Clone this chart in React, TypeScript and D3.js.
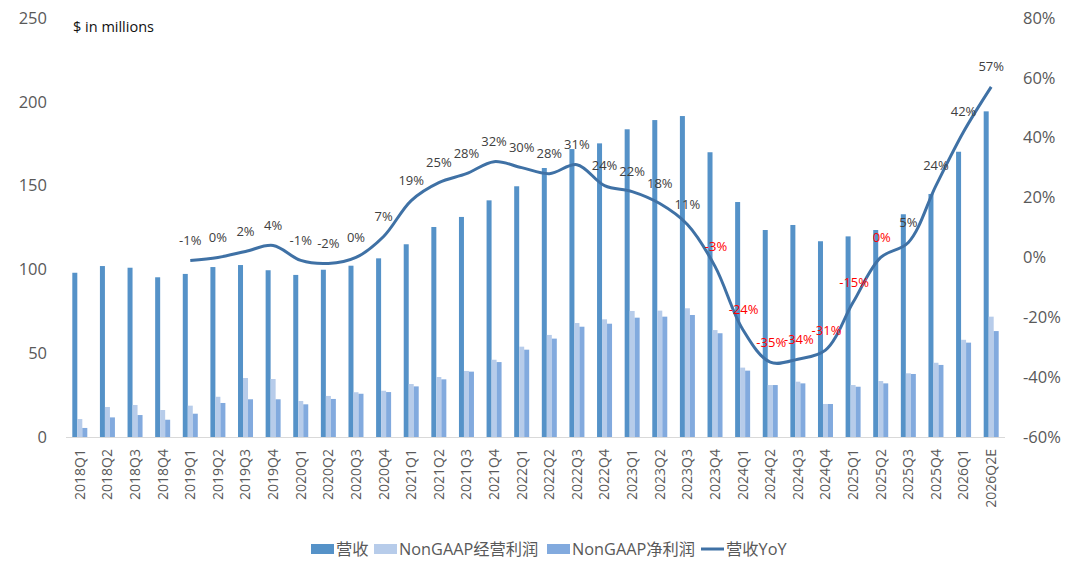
import React from 'react';
import * as d3 from 'd3';

const quarters = [
  '2018Q1', '2018Q2', '2018Q3', '2018Q4', '2019Q1', '2019Q2', '2019Q3', '2019Q4',
  '2020Q1', '2020Q2', '2020Q3', '2020Q4', '2021Q1', '2021Q2', '2021Q3', '2021Q4',
  '2022Q1', '2022Q2', '2022Q3', '2022Q4', '2023Q1', '2023Q2', '2023Q3', '2023Q4',
  '2024Q1', '2024Q2', '2024Q3', '2024Q4', '2025Q1', '2025Q2', '2025Q3', '2025Q4',
  '2026Q1', '2026Q2E',
];

// revenue, $m
const revenue = [
  98, 102, 101, 95.3, 97.3, 101.4, 102.6, 99.5,
  96.7, 99.8, 102.2, 106.6, 115, 125.3, 131.3, 141.2,
  149.6, 160.5, 171.8, 175.2, 183.6, 189.1, 191.5, 169.9,
  140.2, 123.5, 126.5, 116.8, 119.7, 123.5, 132.9, 145,
  170.2, 194.3,
];

// NonGAAP operating profit, $m
const opProfit = [
  10.7, 17.9, 19.1, 16.1, 18.7, 24, 35.2, 34.6,
  21.5, 24.5, 26.7, 27.6, 31.6, 35.8, 39.4, 46.1,
  53.9, 60.9, 68, 70.2, 75.2, 75.4, 76.8, 63.8,
  41.4, 31, 33, 19.7, 31, 33.4, 38, 44.3,
  58, 71.8,
];

// NonGAAP net profit, $m
const netProfit = [
  5.4, 11.7, 13.1, 10.3, 13.9, 20.3, 22.5, 22.5,
  19.5, 22.7, 25.8, 26.8, 30.2, 34.4, 39, 44.7,
  52.1, 58.7, 65.8, 67.6, 71.2, 71.8, 72.8, 61.9,
  39.6, 31, 32, 19.7, 30, 32, 37.6, 43,
  56.3, 63.2,
];

// revenue YoY %, starts at 2019Q1
const yoyStart = 4;
const yoy = [
  -1, 0, 2, 4, -1, -2, 0, 7, 19, 25, 28, 32, 30, 28, 31, 24,
  22, 18, 11, -3, -24, -35, -34, -31, -15, 0, 5, 24, 42, 57,
];
// labels drawn in red (decline period)
const redFrom = '2023Q4';
const redTo = '2025Q2';

const leftTicks = [0, 50, 100, 150, 200, 250];
const rightTicks = [-60, -40, -20, 0, 20, 40, 60, 80];

const W = 1080;
const H = 575;
const left = 66;
const right = 1005;
const top = 18;
const bottom = 437;

const C_REV = '#5592C8';
const C_OP = '#B7CCEA';
const C_NET = '#82AADE';
const C_LINE = '#3F71A5';
const FONT = '"Open Sans", "Noto Sans CJK SC", sans-serif';

export default function App() {
  const x = d3.scaleBand<string>().domain(quarters).range([left, right]);
  const yL = d3.scaleLinear().domain([0, 250]).range([bottom, top]);
  const yR = d3.scaleLinear().domain([-60, 80]).range([bottom, top]);
  const bw = 5;
  const cx = (q: string) => (x(q) as number) + x.bandwidth() / 2;

  const yoyPts = yoy.map((v, i) => ({ q: quarters[i + yoyStart], v }));
  const line = d3
    .line<{ q: string; v: number }>()
    .x(d => cx(d.q))
    .y(d => yR(d.v))
    .curve(d3.curveCatmullRom.alpha(0.5));

  const iRed0 = quarters.indexOf(redFrom);
  const iRed1 = quarters.indexOf(redTo);

  const bars = [
    { vals: revenue, color: C_REV, off: -7.5 },
    { vals: opProfit, color: C_OP, off: -2.5 },
    { vals: netProfit, color: C_NET, off: 2.5 },
  ];

  const legend = [
    { label: '营收', type: 'rect', color: C_REV, x: 311 },
    { label: 'NonGAAP经营利润', type: 'rect', color: C_OP, x: 374 },
    { label: 'NonGAAP净利润', type: 'rect', color: C_NET, x: 547 },
    { label: '营收YoY', type: 'line', color: C_LINE, x: 701 },
  ];

  return (
    <svg width={W} height={H} style={{ display: 'block', position: 'absolute', left: 0, top: 0, background: '#fff' }} fontFamily={FONT}>
      <rect width={W} height={H} fill="#fff" />

      {leftTicks.map(t => (
        <text key={'l' + t} x={47} y={yL(t)} dy="0.35em" textAnchor="end" fontSize={16.5} fill="#595959">
          {t}
        </text>
      ))}
      {rightTicks.map(t => (
        <text key={'r' + t} x={1023} y={yR(t)} dy="0.35em" textAnchor="start" fontSize={16.5} fill="#595959">
          {t + '%'}
        </text>
      ))}
      <text x={73} y={27} dy="0.35em" fontSize={14.5} fill="#111">$ in millions</text>

      {bars.map((b, bi) =>
        quarters.map((q, i) => (
          <rect
            key={bi + q}
            x={cx(q) + b.off}
            y={yL(b.vals[i])}
            width={bw}
            height={yL(0) - yL(b.vals[i])}
            fill={b.color}
          />
        ))
      )}

      <line x1={left} x2={right} y1={bottom + 0.5} y2={bottom + 0.5} stroke="#D9D9D9" strokeWidth={1} />

      {quarters.map(q => (
        <text
          key={'x' + q}
          transform={`translate(${cx(q)},${449}) rotate(-90)`}
          dy="0.35em"
          textAnchor="end"
          fontSize={14}
          fill="#595959"
        >
          {q}
        </text>
      ))}

      <path d={line(yoyPts) || ''} fill="none" stroke={C_LINE} strokeWidth={3} />

      {yoyPts.map((d, i) => {
        const idx = i + yoyStart;
        const red = idx >= iRed0 && idx <= iRed1;
        return (
          <text
            key={'v' + d.q}
            x={cx(d.q) + (red ? 1 : 0)}
            y={yR(d.v) - 20}
            dy="0.35em"
            textAnchor="middle"
            fontSize={13}
            fill={red ? '#FF0000' : '#404040'}
          >
            {d.v + '%'}
          </text>
        );
      })}

      {legend.map(l => (
        <g key={l.label} transform={`translate(${l.x},549)`}>
          {l.type === 'rect' ? (
            <rect x={0} y={-5} width={23} height={10} fill={l.color} />
          ) : (
            <line x1={0} x2={23} y1={0} y2={0} stroke={l.color} strokeWidth={3} />
          )}
          <text x={25} y={0} dy="0.35em" fontSize={16.3} fill="#595959">{l.label}</text>
        </g>
      ))}
    </svg>
  );
}
